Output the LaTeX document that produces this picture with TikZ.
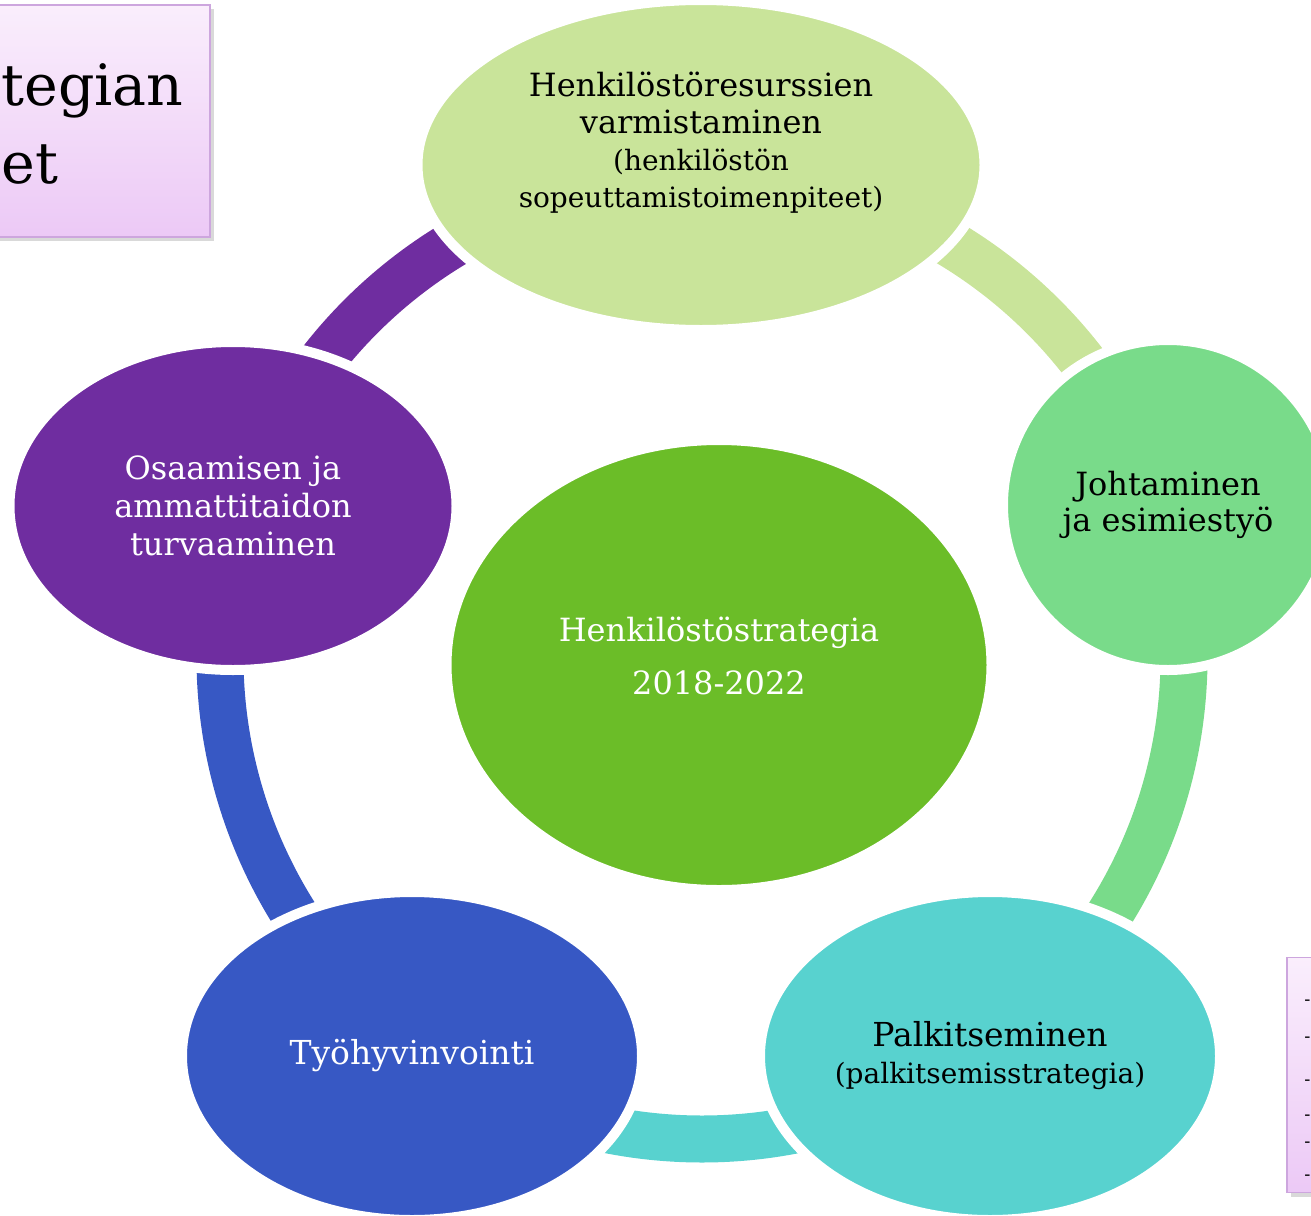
\documentclass[tikz,border=0pt]{standalone}
\usepackage{fontspec}
\setmainfont{DejaVu Serif}
\usetikzlibrary{shapes.geometric,shadows}

\definecolor{staffgreen}{HTML}{C9E49A}
\definecolor{leadgreen}{HTML}{79DB8A}
\definecolor{rewardteal}{HTML}{58D2CF}
\definecolor{wellblue}{HTML}{3758C4}
\definecolor{skillpurple}{HTML}{6F2DA0}
\definecolor{coregreen}{HTML}{6BBD28}
\definecolor{boxtop}{HTML}{FAEEFC}
\definecolor{boxbottom}{HTML}{ECC9F6}
\definecolor{boxline}{HTML}{CDA6DE}

\begin{document}
\begin{tikzpicture}[
    x=0.5pt,y=0.5pt,
    theme/.style={ellipse,draw=white,line width=5pt,inner sep=0pt,align=center},
    band/.style={line width=23.5pt},
    mainfont/.style={font=\fontsize{16}{18.5}\selectfont},
    cornerbox/.style={rectangle,draw=boxline,line width=0.8pt,top color=boxtop,bottom color=boxbottom,
        drop shadow={shadow xshift=2pt,shadow yshift=-2pt,opacity=0.3}}
]
\useasboundingbox (0,0) rectangle (1311,-1215);

% Corner boxes
\node[cornerbox,minimum width=111pt,minimum height=116pt] (titlebox) at (99,-121) {};
\node[font=\fontsize{28.5}{39}\selectfont,anchor=base west,inner sep=0pt] (titleA) at (1,-105) {tegian};
\node[font=\fontsize{28.5}{39}\selectfont,anchor=base west,inner sep=0pt] (titleB) at (1,-183) {et};
\node[cornerbox,minimum width=40pt,minimum height=117.5pt] (notebox) at (1327,-1075) {};
\foreach \y [count=\i] in {1003,1040,1083,1118,1145,1178}
    \node[font=\fontsize{9}{11}\selectfont,anchor=west,inner sep=0pt] (note\i) at (1304,-\y) {-};

% Ring bands
\coordinate (hub) at (702,-657);
\draw[band,skillpurple] (hub) ++(90:482) arc[start angle=90,end angle=162,radius=482];
\draw[band,staffgreen] (hub) ++(18:482) arc[start angle=18,end angle=90,radius=482];
\draw[band,leadgreen] (hub) ++(-54:482) arc[start angle=-54,end angle=18,radius=482];
\draw[band,rewardteal] (hub) ++(-126:482) arc[start angle=-126,end angle=-54,radius=482];
\draw[band,wellblue] (hub) ++(162:482) arc[start angle=162,end angle=234,radius=482];

% Theme nodes
\node[theme,fill=staffgreen,minimum width=283.5pt,minimum height=165pt] (staffing) at (701,-165) {};
\node[mainfont,align=center] (staffingtext) at ([yshift=11pt]staffing.center)
    {Henkilöstöresurssien\\varmistaminen\\{\fontsize{14}{16.5}\selectfont (henkilöstön}\\{\fontsize{14}{16.5}\selectfont sopeuttamistoimenpiteet)}};
\node[theme,fill=leadgreen,minimum width=165pt,minimum height=165pt,font=\fontsize{16}{18}\selectfont] (leading) at (1168,-505)
    {Johtaminen\\ja esimiestyö};
\node[theme,fill=rewardteal,minimum width=230pt,minimum height=164pt,font=\fontsize{16.5}{18.5}\selectfont] (reward) at (990,-1056)
    {Palkitseminen\\{\fontsize{14}{16.5}\selectfont (palkitsemisstrategia)}};
\node[theme,fill=wellblue,minimum width=230pt,minimum height=164pt,font=\fontsize{16.5}{18.5}\selectfont,text=white] (wellbeing) at (412,-1056)
    {Työhyvinvointi};
\node[theme,fill=skillpurple,minimum width=223.5pt,minimum height=164pt,font=\fontsize{16}{19}\selectfont,text=white] (skills) at (233,-506)
    {Osaamisen ja\\ammattitaidon\\turvaaminen};

% Center node
\node[theme,fill=coregreen,minimum width=272.5pt,minimum height=225pt] (strategy) at (719,-665) {};
\node[font=\fontsize{16}{26.5}\selectfont,text=white,align=center] (strategytext) at ([yshift=4.5pt]strategy.center)
    {Henkilöstöstrategia\\2018-2022};

\end{tikzpicture}
\end{document}
